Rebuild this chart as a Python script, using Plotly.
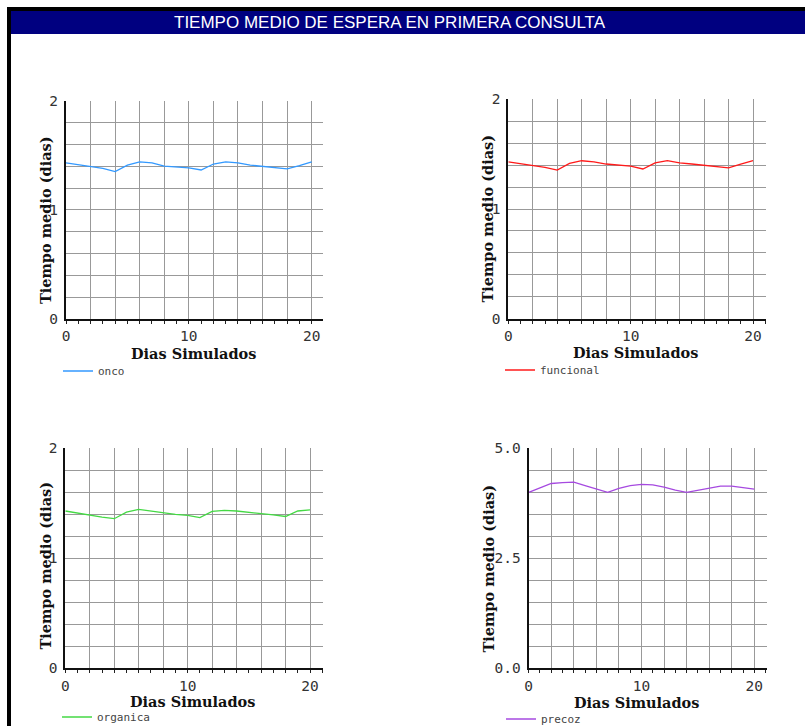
import plotly.graph_objects as go

# ---------------- data ----------------
dias = list(range(21))
onco = [1.43, 1.415, 1.40, 1.38, 1.35, 1.41, 1.44, 1.43, 1.40, 1.395, 1.385,
        1.365, 1.42, 1.44, 1.43, 1.41, 1.40, 1.39, 1.375, 1.405, 1.44]
funcional = [1.43, 1.415, 1.40, 1.38, 1.355, 1.415, 1.44, 1.43, 1.41, 1.40, 1.39,
             1.365, 1.42, 1.44, 1.42, 1.41, 1.40, 1.39, 1.375, 1.41, 1.44]
organica = [1.43, 1.41, 1.39, 1.375, 1.36, 1.42, 1.445, 1.43, 1.41, 1.40, 1.39,
            1.37, 1.427, 1.436, 1.43, 1.42, 1.41, 1.395, 1.38, 1.43, 1.44]
precoz = [4.0, 4.1, 4.2, 4.22, 4.23, 4.15, 4.07, 4.0, 4.09, 4.15, 4.18,
          4.17, 4.12, 4.05, 4.0, 4.05, 4.1, 4.14, 4.14, 4.11, 4.07]

series_names = ["onco", "funcional", "organica", "precoz"]
series_values = [onco, funcional, organica, precoz]
series_colors = ["#3399ff", "#ff1a1a", "#44d944", "#a64ae0"]

x_ticklabels = {0: "0", 10: "10", 20: "20"}
y_ticklabels = [
    {0: "0", 1: "1", 2: "2"},
    {0: "0", 1: "1", 2: "2"},
    {0: "0", 1: "1", 2: "2"},
    {0: "0.0", 2.5: "2.5", 5: "5.0"},
]
y_max = [2, 2, 2, 5]
y_grid = [0.2, 0.2, 0.2, 0.5]

titulo = "TIEMPO MEDIO DE ESPERA EN PRIMERA CONSULTA"
x_title = "Dias Simulados"
y_title = "Tiempo medio (dias)"

# ---------------- layout geometry (window pixels) ----------------
W, H = 805, 726
boxes = [(66, 323, 100.7, 319), (508.3, 766, 99.3, 318.7),
         (65.3, 322.7, 448.3, 668.3), (528.7, 766.7, 448.3, 668.3)]
x20 = [311.7, 753, 310, 754.3]
xtitle_pos = [(193, 353), (635, 352), (192.5, 701), (636, 702)]
ytitle_pos = [(46, 220), (486.5, 218), (44.5, 566), (487.5, 569)]
legend_pos = [(58, 371), (500, 370), (57, 717), (501, 719)]


def px(x):
    return x / W


def py(y):
    return 1 - y / H


MONO = "DejaVu Sans Mono"
SERIF = "DejaVu Serif"
GRID = "#999999"

fig = go.Figure()
layout = dict(
    width=W, height=H, autosize=False,
    margin=dict(l=0, r=0, t=0, b=0, autoexpand=False),
    paper_bgcolor="white", plot_bgcolor="white",
    showlegend=True,
    shapes=[], annotations=[],
)

for i in range(4):
    n = i + 1
    sfx = "" if n == 1 else str(n)
    l, r, t, b = boxes[i]
    xmax = 20 * (r - l) / (x20[i] - l)
    legname = "legend" if n == 1 else f"legend{n}"

    fig.add_trace(go.Scatter(
        x=dias, y=series_values[i], mode="lines", name=series_names[i],
        line=dict(color=series_colors[i], width=1.3),
        xaxis="x" + sfx, yaxis="y" + sfx, legend=legname,
        hoverinfo="skip",
    ))

    tv = list(range(0, 21, 2))
    layout["xaxis" + sfx] = dict(
        domain=[px(l), px(r)], anchor="y" + sfx, range=[0, xmax],
        tickmode="array", tickvals=tv,
        ticktext=[x_ticklabels.get(v, "") for v in tv],
        showgrid=True, gridcolor=GRID, gridwidth=1,
        ticks="outside", ticklen=3, tickwidth=1, tickcolor="#222",
        minor=dict(tickmode="linear", tick0=0, dtick=1, ticks="outside",
                   ticklen=3, tickwidth=1, tickcolor="#222", showgrid=False),
        showline=True, linecolor="#111", linewidth=2,
        zeroline=False, ticklabelstandoff=0,
        tickfont=dict(family=MONO, size=14.5, color="#333"),
        fixedrange=True,
    )
    layout[f"xaxis{n + 4}"] = dict(
        overlaying="x" + sfx, anchor="y" + sfx, range=[0, xmax], side="bottom",
        tickmode="linear", tick0=0, dtick=1, ticks="inside", ticklen=3,
        tickwidth=1, tickcolor="#222", showticklabels=False,
        showgrid=False, showline=False, zeroline=False, fixedrange=True,
    )
    ylab = y_ticklabels[i]
    layout["yaxis" + sfx] = dict(
        domain=[py(b), py(t)], anchor="x" + sfx, range=[0, y_max[i]],
        tickmode="array", tickvals=list(ylab.keys()), ticktext=list(ylab.values()),
        showgrid=True, gridcolor=GRID, gridwidth=1,
        minor=dict(tickmode="linear", tick0=0, dtick=y_grid[i], showgrid=True,
                   gridcolor=GRID, gridwidth=1, ticks=""),
        ticks="", showline=True, linecolor="#111", linewidth=2,
        zeroline=False, ticklabelstandoff=3,
        tickfont=dict(family=MONO, size=14.5, color="#333"),
        fixedrange=True,
    )

    lx, ly = legend_pos[i]
    layout[legname] = dict(
        x=px(lx), y=py(ly), xanchor="left", yanchor="middle",
        bgcolor="rgba(0,0,0,0)", borderwidth=0,
        font=dict(family=MONO, size=11, color="#444"),
    )

    xt = xtitle_pos[i]
    layout["annotations"].append(dict(
        text=f"<b>{x_title}</b>", x=px(xt[0]), y=py(xt[1]), xref="paper", yref="paper",
        xanchor="center", yanchor="middle", showarrow=False,
        font=dict(family=SERIF, size=14.5, color="#111"),
    ))
    yt = ytitle_pos[i]
    layout["annotations"].append(dict(
        text=f"<b>{y_title}</b>", x=px(yt[0]), y=py(yt[1]), xref="paper", yref="paper",
        xanchor="center", yanchor="middle", showarrow=False, textangle=-90,
        font=dict(family=SERIF, size=14.5, color="#111"),
    ))

# window frame and title bar
layout["shapes"] += [
    dict(type="rect", xref="paper", yref="paper", x0=px(7), x1=1, y0=py(11), y1=py(7),
         fillcolor="black", line=dict(width=0), layer="above"),
    dict(type="rect", xref="paper", yref="paper", x0=px(7), x1=px(11), y0=0, y1=py(7),
         fillcolor="black", line=dict(width=0), layer="above"),
    dict(type="rect", xref="paper", yref="paper", x0=px(11), x1=1, y0=py(34), y1=py(11),
         fillcolor="#000080", line=dict(width=0), layer="above"),
]
layout["annotations"].append(dict(
    text=titulo, x=px(390), y=py(22.5), xref="paper", yref="paper",
    xanchor="center", yanchor="middle", showarrow=False,
    font=dict(family="Liberation Sans", size=17, color="white"),
))

fig.update_layout(**layout)
fig.write_html("out.html", config={"displayModeBar": False},
               post_script="document.body.style.margin='0px';")
